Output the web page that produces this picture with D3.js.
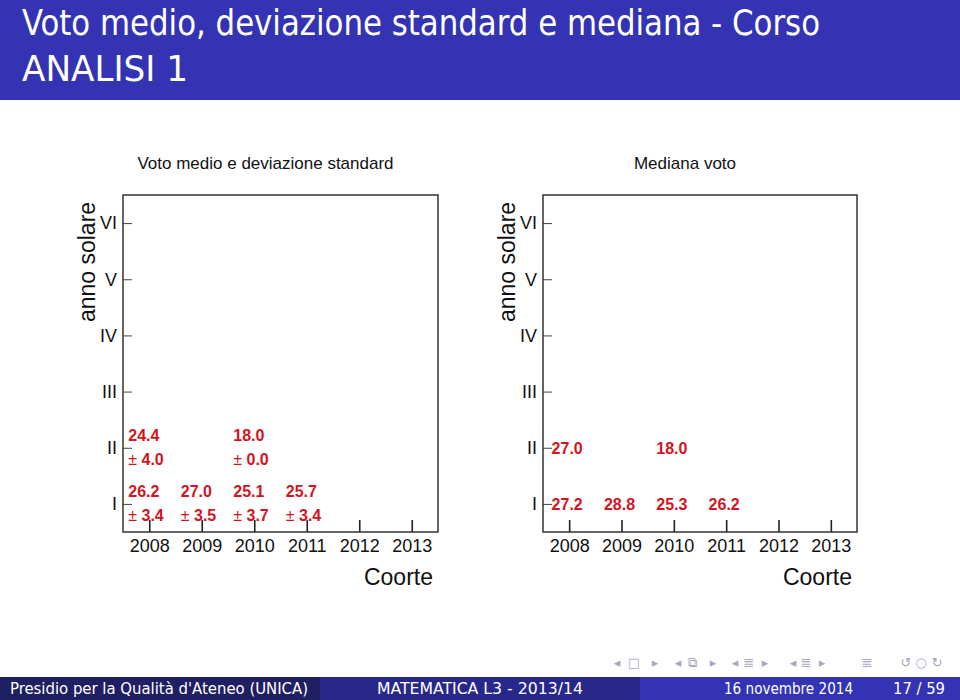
<!DOCTYPE html>
<html>
<head>
<meta charset="utf-8">
<script src="https://cdn.jsdelivr.net/npm/d3@7"></script>
<style>
  html, body { margin: 0; padding: 0; background: #ffffff; }
  svg { display: block; }
</style>
</head>
<body>
<script>
// ---------- data ----------
const cohorts = [2008, 2009, 2010, 2011, 2012, 2013];
const yearLabels = ["I", "II", "III", "IV", "V", "VI"];

// mean +- sd (left panel)
const meanCohort = [2008, 2009, 2010, 2011, 2008, 2010];
const meanYear   = [1, 1, 1, 1, 2, 2];
const meanValues = [26.2, 27.0, 25.1, 25.7, 24.4, 18.0];
const sdValues   = [3.4, 3.5, 3.7, 3.4, 4.0, 0.0];

// median (right panel)
const medCohort = [2008, 2009, 2010, 2011, 2008, 2010];
const medYear   = [1, 1, 1, 1, 2, 2];
const medValues = [27.2, 28.8, 25.3, 26.2, 27.0, 18.0];

const slideTitle = ["Voto medio, deviazione standard e mediana - Corso", "ANALISI 1"];
const panelTitles = ["Voto medio e deviazione standard", "Mediana voto"];
const footerTexts = ["Presidio per la Qualità d'Ateneo  (UNICA)", "MATEMATICA L3 - 2013/14", "16 novembre 2014", "17 / 59"];

// ---------- drawing ----------
const W = 960, H = 700;
const svg = d3.select("body").append("svg").attr("width", W).attr("height", H);

const headFont = "'DejaVu Sans Condensed', 'DejaVu Sans', sans-serif";
const chartFont = "'Liberation Sans', Arial, Helvetica, sans-serif";
const red = "#d2141f";

// header band
svg.append("rect").attr("x", 0).attr("y", 0).attr("width", W).attr("height", 100).attr("fill", "#3333b3");
svg.append("text").attr("x", 22).attr("y", 35).attr("fill", "#fff")
  .style("font-family", headFont).style("font-size", "36px").style("font-stretch", "condensed")
  .attr("textLength", 798).attr("lengthAdjust", "spacingAndGlyphs")
  .text(slideTitle[0]);
svg.append("text").attr("x", 22).attr("y", 81).attr("fill", "#fff")
  .style("font-family", headFont).style("font-size", "36px").style("font-stretch", "condensed")
  .attr("textLength", 166).attr("lengthAdjust", "spacingAndGlyphs")
  .text(slideTitle[1]);

// panels
const plotTop = 195, plotBottom = 532;
const panels = [
  { x0: 123, x1: 438, title: panelTitles[0], kind: "mean" },
  { x0: 543, x1: 857, title: panelTitles[1], kind: "median" }
];

panels.forEach(p => {
  const g = svg.append("g");
  const x = d3.scaleLinear().domain([2007.5, 2013.5]).range([p.x0, p.x1]);
  const y = d3.scaleLinear().domain([0.5, 6.5]).range([plotBottom, plotTop]);

  // x axis, ticks inward
  const xAxis = d3.axisBottom(x).tickValues(cohorts).tickFormat(d3.format("d"))
    .tickSizeInner(-12).tickSizeOuter(0).tickPadding(7);
  const gx = g.append("g").attr("transform", `translate(0,${plotBottom})`).call(xAxis);
  gx.select(".domain").remove();
  gx.selectAll(".tick line").attr("stroke", "#222").attr("stroke-width", 1.6);
  gx.selectAll(".tick text").style("font-family", chartFont).style("font-size", "18px").attr("fill", "#111");

  // y axis, ticks inward
  const yAxis = d3.axisLeft(y).tickValues([1, 2, 3, 4, 5, 6]).tickFormat(d => yearLabels[d - 1])
    .tickSizeInner(-9).tickSizeOuter(0).tickPadding(6);
  const gy = g.append("g").attr("transform", `translate(${p.x0},0)`).call(yAxis);
  gy.select(".domain").remove();
  gy.selectAll(".tick line").attr("stroke", "#444").attr("stroke-width", 1);
  gy.selectAll(".tick text").style("font-family", chartFont).style("font-size", "18px").attr("fill", "#111");

  // frame
  g.append("rect").attr("x", p.x0).attr("y", plotTop).attr("width", p.x1 - p.x0).attr("height", plotBottom - plotTop)
    .attr("fill", "none").attr("stroke", "#333").attr("stroke-width", 1.5);

  // panel title
  g.append("text").attr("x", (p.x0 + p.x1) / 2 - 15).attr("y", 169).attr("text-anchor", "middle")
    .style("font-family", chartFont).style("font-size", "17px").attr("fill", "#111").text(p.title);

  // axis titles
  g.append("text").attr("x", p.x1 - 5).attr("y", 585).attr("text-anchor", "end")
    .style("font-family", chartFont).style("font-size", "23px").attr("fill", "#111").text("Coorte");
  g.append("text").attr("transform", `translate(${p.x0 - 28},262) rotate(-90)`).attr("text-anchor", "middle")
    .style("font-family", chartFont).style("font-size", "23px").attr("fill", "#111").text("anno solare");

  if (p.kind === "mean") {
    const lab = g.append("g").style("font-family", chartFont).style("font-size", "16px")
      .style("font-weight", "bold").attr("fill", red);
    meanValues.forEach((v, i) => {
      const cx = x(meanCohort[i]) - 21, cy = y(meanYear[i]);
      lab.append("text").attr("x", cx).attr("y", cy - 7).text(v.toFixed(1));
      const t = lab.append("text").attr("x", cx).attr("y", cy + 17);
      t.append("tspan").style("font-weight", "normal").text("±");
      t.append("tspan").text("\u00a0" + sdValues[i].toFixed(1));
    });
  } else {
    const lab = g.append("g").style("font-family", chartFont).style("font-size", "16px")
      .style("font-weight", "bold").attr("fill", red).attr("text-anchor", "middle");
    medValues.forEach((v, i) => {
      lab.append("text").attr("x", x(medCohort[i]) - 2).attr("y", y(medYear[i]) + 6).text(v.toFixed(1));
    });
  }
});

// navigation symbols
const navSyms = [
  [617, "◂"], [634, "□"], [655, "▸"], [678, "◂"], [692, "⧉"], [713, "▸"],
  [735, "◂"], [749, "≣"], [765, "▸"], [793, "◂"], [806, "≣"], [822, "▸"],
  [867, "≣"], [906, "↺"], [921, "○"], [937, "↻"]
];
svg.append("g").style("font-family", "'DejaVu Sans', sans-serif").style("font-size", "13px").attr("fill", "#a8a8c0")
  .selectAll("text").data(navSyms).join("text")
  .attr("x", d => d[0]).attr("y", 667).attr("text-anchor", "middle").text(d => d[1]);

// footer
const foot = [
  { x0: 0, x1: 320, fill: "#1f1f62" },
  { x0: 320, x1: 640, fill: "#28288a" },
  { x0: 640, x1: 960, fill: "#3333b3" }
];
svg.append("g").selectAll("rect").data(foot).join("rect")
  .attr("x", d => d.x0).attr("y", 677).attr("width", d => d.x1 - d.x0).attr("height", 23).attr("fill", d => d.fill);
const ft = svg.append("g").style("font-family", headFont).style("font-size", "16px").attr("fill", "#fff");
ft.append("text").attr("x", 10).attr("y", 694).attr("textLength", 298).attr("lengthAdjust", "spacingAndGlyphs").text(footerTexts[0]);
ft.append("text").attr("x", 377).attr("y", 694).attr("textLength", 206).attr("lengthAdjust", "spacingAndGlyphs").text(footerTexts[1]);
ft.append("text").attr("x", 724).attr("y", 694).attr("textLength", 129).attr("lengthAdjust", "spacingAndGlyphs").text(footerTexts[2]);
ft.append("text").attr("x", 893).attr("y", 694).attr("textLength", 52).attr("lengthAdjust", "spacingAndGlyphs").text(footerTexts[3]);
</script>
</body>
</html>
